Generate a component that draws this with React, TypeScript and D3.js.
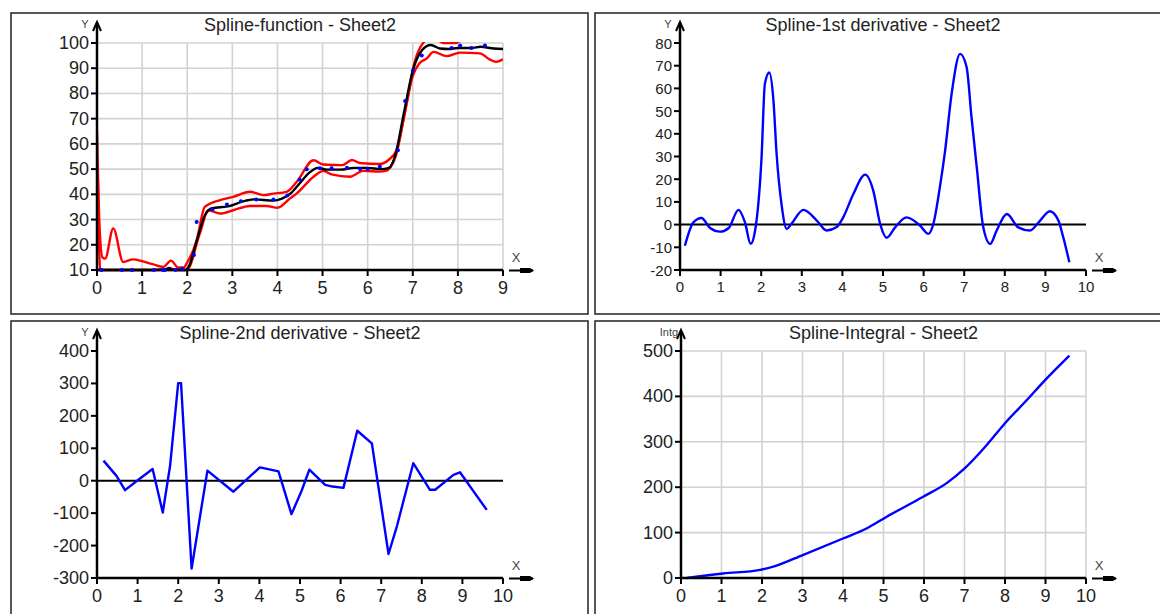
import React from 'react';
import * as d3 from 'd3';

type Pt = [number, number];

// ---- data ----
const fitCurve: Pt[] = [
  [0, 10], [0.5, 10], [1.0, 10], [1.5, 10.2], [1.6, 10.8], [1.7, 10.2], [1.95, 10], [2.05, 12],
  [2.2, 21], [2.4, 32], [2.55, 34.5], [2.9, 35.2], [3.3, 37.5], [3.5, 38], [3.9, 37.5], [4.1, 38.3],
  [4.3, 40.5], [4.5, 44.5], [4.7, 48.5], [4.9, 50.5], [5.1, 49.8], [5.4, 49.8], [5.7, 50.5], [6.0, 50.5],
  [6.3, 50], [6.47, 50.5], [6.62, 56], [6.8, 72], [7.0, 89], [7.2, 97], [7.4, 99.2], [7.6, 97.8],
  [7.8, 97.6], [8.0, 98], [8.3, 98], [8.5, 98.5], [8.8, 97.8], [9, 97.6],
];

const upperBand: Pt[] = [
  [0, 65], [0.05, 30], [0.12, 15], [0.18, 14.5], [0.36, 26.5], [0.58, 13.2], [0.8, 14.2], [1.0, 13.5],
  [1.25, 12.2], [1.47, 11.2], [1.64, 13.7], [1.8, 11], [1.92, 11], [2.0, 13], [2.21, 21.8], [2.39, 35],
  [2.73, 37.7], [3.02, 39], [3.39, 41], [3.69, 39.7], [3.91, 40.3], [4.2, 41], [4.43, 45], [4.8, 53.5],
  [5.02, 51.8], [5.44, 51.6], [5.65, 53.6], [5.83, 52.4], [6.27, 52], [6.46, 53.6], [6.64, 57.5],
  [6.85, 75], [7.05, 93], [7.23, 100], [7.45, 102.5], [7.68, 100], [7.95, 100], [8.15, 102],
  [8.5, 102.5], [9, 102],
];

const lowerBand: Pt[] = [
  [0.02, 46], [0.04, 25], [0.07, 10], [1.0, 10], [1.99, 10], [2.28, 24.5], [2.47, 33.7], [2.73, 32.4],
  [3.02, 33.7], [3.39, 35.4], [3.76, 35.4], [4.0, 34.7], [4.28, 38.4], [4.43, 40.4], [4.8, 47],
  [5.02, 49.3], [5.2, 47.9], [5.61, 47], [5.9, 49.3], [6.27, 49], [6.4, 49.3], [6.62, 55], [6.8, 70],
  [7.0, 87], [7.15, 92], [7.31, 93.9], [7.46, 96.5], [7.75, 94.8], [8.05, 96.2], [8.49, 95.9],
  [8.7, 93.5], [8.85, 92.5], [9, 93.5],
];

const samplePoints: Pt[] = [
  [0.1, 10], [0.55, 10], [0.78, 10], [1.26, 10], [1.46, 10], [1.5, 10], [1.74, 10], [1.89, 10.5],
  [2.15, 15.9], [2.21, 29], [2.56, 34], [2.88, 36], [3.19, 37.3], [3.53, 38], [3.91, 38], [4.22, 39.5],
  [4.49, 45.9], [4.65, 49.9], [4.94, 50.3], [5.2, 50.3], [5.54, 50.5], [5.83, 50], [6.0, 50],
  [6.27, 51], [6.67, 57.5], [6.83, 77], [7.0, 89], [7.2, 95], [7.86, 98], [8.05, 99], [8.3, 98], [8.6, 99],
];

const firstDerivative: Pt[] = [
  [0.12, -9.3], [0.33, 1], [0.53, 2.9], [0.74, -1.5], [0.99, -3.1], [1.2, -1.5], [1.44, 6.5], [1.6, 1],
  [1.74, -8.5], [1.85, -2.6], [2.01, 30], [2.09, 62], [2.2, 67], [2.3, 55], [2.38, 31], [2.5, 9],
  [2.63, -1.9], [2.75, 0.5], [3.04, 6.5], [3.37, 1.8], [3.61, -2.6], [3.86, -1.1], [4.02, 3.2],
  [4.27, 13.5], [4.56, 22], [4.76, 15], [4.93, 0.3], [5.09, -5.8], [5.3, -1.2], [5.58, 3.2],
  [5.91, -0.4], [6.12, -4.1], [6.24, 0.3], [6.4, 16.4], [6.53, 32.6], [6.69, 57.6], [6.9, 75.2],
  [7.06, 69.3], [7.18, 47.3], [7.31, 25.2], [7.47, -1.2], [7.64, -8.5], [7.8, -2.6], [8.05, 4.7],
  [8.33, -1.2], [8.62, -2.6], [8.87, 1.8], [9.11, 5.9], [9.32, 1.8], [9.44, -5.6], [9.59, -16.6],
];

const secondDerivative: Pt[] = [
  [0.16, 62], [0.48, 15], [0.69, -29], [1.06, 7], [1.37, 36], [1.62, -98], [1.8, 46], [2.0, 301],
  [2.07, 301], [2.33, -271], [2.54, -108], [2.72, 31], [3.36, -34], [4.01, 41], [4.13, 38], [4.47, 29],
  [4.79, -103], [5.04, -31], [5.23, 34], [5.62, -13], [5.8, -18], [6.07, -22], [6.41, 154], [6.77, 115],
  [7.18, -226], [7.39, -139], [7.79, 54], [8.2, -28], [8.33, -28], [8.78, 18], [8.94, 26], [9.6, -90],
];

const integralCurve: Pt[] = [
  [0.14, 0], [1.04, 10], [1.95, 18], [2.28, 25], [3.02, 51], [4.0, 87], [4.58, 109], [5.08, 135],
  [5.98, 179], [6.56, 209], [7.01, 242], [7.55, 293], [8.0, 341], [8.54, 392], [8.99, 436], [9.59, 490],
];

const fnXTicks = [0, 1, 2, 3, 4, 5, 6, 7, 8, 9];
const fnYTicks = [10, 20, 30, 40, 50, 60, 70, 80, 90, 100];
const xTicks10 = [0, 1, 2, 3, 4, 5, 6, 7, 8, 9, 10];
const d1YTicks = [-20, -10, 0, 10, 20, 30, 40, 50, 60, 70, 80];
const d2YTicks = [-300, -200, -100, 0, 100, 200, 300, 400];
const intYTicks = [0, 100, 200, 300, 400, 500];

const FONT = '"Liberation Sans", Arial, sans-serif';

interface Series { data: Pt[]; color: string; curve: d3.CurveFactory; width: number }

interface PanelProps {
  id: string;
  frame: [number, number, number, number];
  xr: [number, number];
  yr: [number, number]; // [bottom, top]
  xDomain: [number, number];
  yDomain: [number, number];
  xTicks: number[];
  yTicks: number[];
  grid?: boolean;
  zeroLine?: boolean;
  title: string;
  yName: string;
  yNameSize: number;
  tickSize: number;
  series: Series[];
  dots?: Pt[];
}

function Panel(p: PanelProps) {
  const x = d3.scaleLinear().domain(p.xDomain).range(p.xr);
  const y = d3.scaleLinear().domain(p.yDomain).range(p.yr);
  const [x0, x1] = p.xr;
  const [yb, yt] = p.yr;
  const [fx, fy, fw, fh] = p.frame;

  return (
    <g>
      <rect x={fx} y={fy} width={fw} height={fh} fill="white" stroke="#222" strokeWidth={1.5} />
      <defs>
        <clipPath id={p.id}>
          <rect x={x0} y={yt - 1} width={x1 - x0} height={yb - yt + 4} />
        </clipPath>
      </defs>

      {p.grid && (
        <g stroke="#d2d2d2" strokeWidth={1.6}>
          {p.xTicks.map(t => <line key={'gx' + t} x1={x(t)} x2={x(t)} y1={yb} y2={yt} />)}
          {p.yTicks.map(t => <line key={'gy' + t} x1={x0} x2={x1} y1={y(t)} y2={y(t)} />)}
        </g>
      )}

      {p.zeroLine && <line x1={x0} x2={x1} y1={y(0)} y2={y(0)} stroke="black" strokeWidth={2} />}

      <g clipPath={`url(#${p.id})`}>
        {p.series.map((s, i) => {
          const path = d3.line<Pt>().x(d => x(d[0])).y(d => y(d[1])).curve(s.curve)(s.data) || '';
          return <path key={i} d={path} fill="none" stroke={s.color} strokeWidth={s.width} strokeLinejoin="round" />;
        })}
      </g>

      {/* axes */}
      <g stroke="black" strokeWidth={2.5}>
        <line x1={x0} x2={x0} y1={yb + 1} y2={yt - 20} />
        <line x1={x0 - 1} x2={x1} y1={yb} y2={yb} />
        {p.yTicks.map(t => <line key={'ty' + t} x1={x0 - 6} x2={x0} y1={y(t)} y2={y(t)} strokeWidth={2} />)}
        {p.xTicks.map(t => <line key={'tx' + t} x1={x(t)} x2={x(t)} y1={yb} y2={yb + 6} strokeWidth={2} />)}
      </g>
      <path d={`M${x0 - 4},${yt - 12} L${x0},${yt - 21} L${x0 + 4},${yt - 12}`} fill="none" stroke="black" strokeWidth={2} />
      <line x1={x1 + 6} x2={x1 + 30} y1={yb + 0.5} y2={yb + 0.5} stroke="black" strokeWidth={2} />
      <path d={`M${x1 + 17},${yb - 2} L${x1 + 27},${yb - 2} L${x1 + 31},${yb + 0.5} L${x1 + 27},${yb + 3} L${x1 + 17},${yb + 3} Z`} fill="black" />

      {p.dots && (
        <g fill="#0000ff">
          {p.dots.map((d, i) => <circle key={i} cx={x(d[0])} cy={y(d[1])} r={2} />)}
        </g>
      )}

      <g fontFamily={FONT} fill="#222" fontSize={p.tickSize}>
        {p.yTicks.map(t => (
          <text key={'ly' + t} x={x0 - 8} y={y(t)} textAnchor="end" dominantBaseline="central">{t}</text>
        ))}
        {p.xTicks.map(t => (
          <text key={'lx' + t} x={x(t)} y={yb + (p.tickSize > 16 ? 24 : 22)} textAnchor="middle">{t}</text>
        ))}
      </g>

      <text x={x0 - 12} y={yt - 15} fontFamily={FONT} fontSize={p.yNameSize} fill="#444" textAnchor="middle">{p.yName}</text>
      <text x={x1 + 13} y={yb - 8} fontFamily={FONT} fontSize={13} fill="#444" textAnchor="middle">X</text>
      <text x={(x0 + x1) / 2} y={fy + 18} fontFamily={FONT} fontSize={18} fill="#222" textAnchor="middle">{p.title}</text>
    </g>
  );
}

export default function App() {
  return (
    <div style={{ position: 'absolute', left: 0, top: 0 }}>
      <svg width={1160} height={614} style={{ display: 'block', background: 'white' }}>
        <Panel
          id="c1" frame={[11, 13, 577, 301]} xr={[97, 503]} yr={[270, 43]}
          xDomain={[0, 9]} yDomain={[10, 100]} xTicks={fnXTicks} yTicks={fnYTicks} grid
          title="Spline-function - Sheet2" yName="Y" yNameSize={11} tickSize={18}
          series={[
            { data: upperBand, color: '#ff0000', curve: d3.curveMonotoneX, width: 2.4 },
            { data: lowerBand, color: '#ff0000', curve: d3.curveMonotoneX, width: 2.4 },
            { data: fitCurve, color: '#000000', curve: d3.curveMonotoneX, width: 2.4 },
          ]}
          dots={samplePoints}
        />
        <Panel
          id="c2" frame={[595, 13, 580, 301]} xr={[680, 1086]} yr={[270, 43]}
          xDomain={[0, 10]} yDomain={[-20, 80]} xTicks={xTicks10} yTicks={d1YTicks} zeroLine
          title="Spline-1st derivative - Sheet2" yName="Y" yNameSize={11} tickSize={15}
          series={[{ data: firstDerivative, color: '#0000ff', curve: d3.curveMonotoneX, width: 2.4 }]}
        />
        <Panel
          id="c3" frame={[11, 321, 577, 300]} xr={[97, 503]} yr={[578, 351]}
          xDomain={[0, 10]} yDomain={[-300, 400]} xTicks={xTicks10} yTicks={d2YTicks} zeroLine
          title="Spline-2nd derivative - Sheet2" yName="Y" yNameSize={11} tickSize={18}
          series={[{ data: secondDerivative, color: '#0000ff', curve: d3.curveLinear, width: 2.4 }]}
        />
        <Panel
          id="c4" frame={[595, 321, 580, 300]} xr={[681, 1086]} yr={[578, 351]}
          xDomain={[0, 10]} yDomain={[0, 500]} xTicks={xTicks10} yTicks={intYTicks} grid
          title="Spline-Integral - Sheet2" yName="Intg" yNameSize={11} tickSize={18}
          series={[{ data: integralCurve, color: '#0000ff', curve: d3.curveMonotoneX, width: 2.4 }]}
        />
      </svg>
    </div>
  );
}
